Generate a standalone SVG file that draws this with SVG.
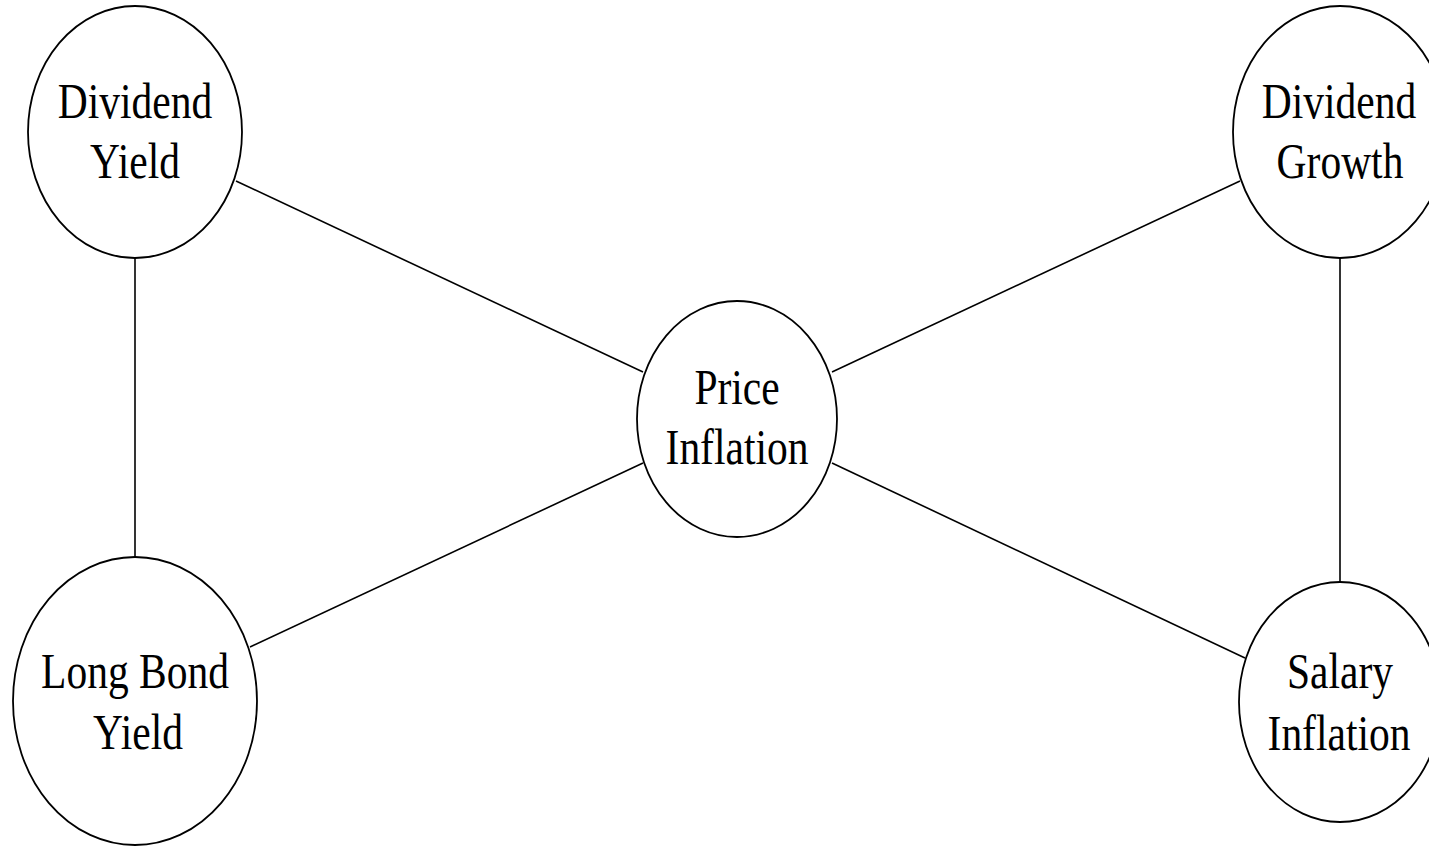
<svg xmlns="http://www.w3.org/2000/svg" width="1429" height="847" viewBox="0 0 1429 847">
<style>
.n{fill:#fff;stroke:#000;stroke-width:1.8}
.e{stroke:#000;stroke-width:1.6;fill:none}
text{font-family:"Liberation Serif","Times New Roman",serif;font-size:50px;fill:#000;text-anchor:middle}
</style>
<rect width="1429" height="847" fill="#fff"/>
<g id="connectors">
<line class="e" x1="135" y1="258" x2="135" y2="557"/>
<line class="e" x1="1340" y1="258" x2="1340" y2="583"/>
<line class="e" x1="236" y1="181" x2="643" y2="372"/>
<line class="e" x1="250" y1="647" x2="643" y2="463"/>
<line class="e" x1="1240" y1="181" x2="832" y2="372"/>
<line class="e" x1="1245" y1="658" x2="832" y2="463"/>
</g>
<g id="dividend-yield">
<ellipse class="n" cx="135" cy="132" rx="107" ry="126"/>
<text transform="translate(135 118) scale(0.83 1)">Dividend</text>
<text transform="translate(135 178) scale(0.83 1)">Yield</text>
</g>
<g id="dividend-growth">
<ellipse class="n" cx="1340" cy="132" rx="107" ry="126"/>
<text transform="translate(1339 118) scale(0.83 1)">Dividend</text>
<text transform="translate(1340 178) scale(0.83 1)">Growth</text>
</g>
<g id="price-inflation">
<ellipse class="n" cx="737" cy="419" rx="100" ry="118"/>
<text transform="translate(737 404) scale(0.83 1)">Price</text>
<text transform="translate(737 464) scale(0.83 1)">Inflation</text>
</g>
<g id="long-bond-yield">
<ellipse class="n" cx="135" cy="701" rx="122" ry="144"/>
<text transform="translate(135 688) scale(0.83 1)">Long Bond</text>
<text transform="translate(138 749) scale(0.83 1)">Yield</text>
</g>
<g id="salary-inflation">
<ellipse class="n" cx="1340" cy="702" rx="101" ry="120"/>
<text transform="translate(1340 688) scale(0.83 1)">Salary</text>
<text transform="translate(1339 750) scale(0.83 1)">Inflation</text>
</g>
</svg>
